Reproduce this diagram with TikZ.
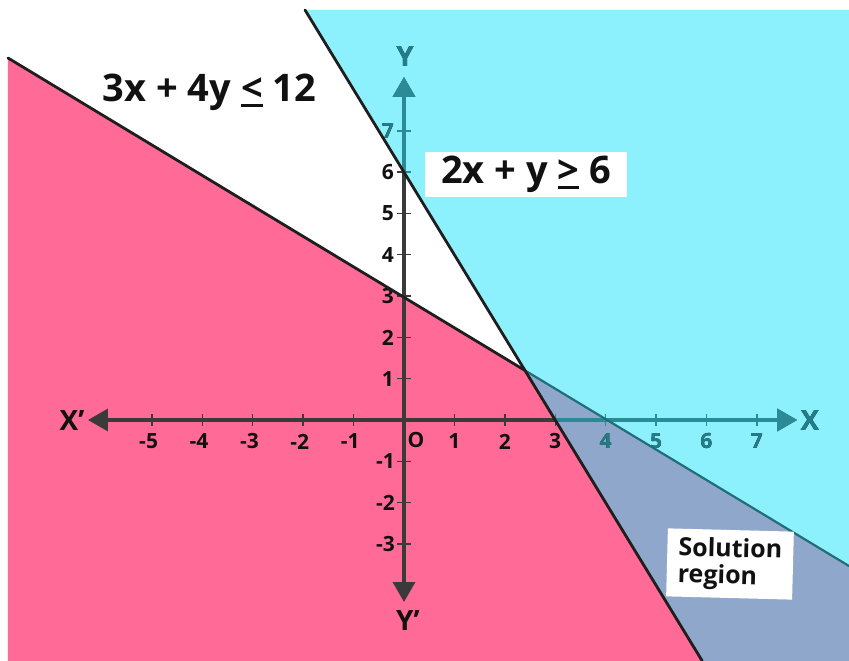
\documentclass[tikz,border=0pt]{standalone}
\usepackage{fontspec}
\setmainfont{Open Sans}
\usetikzlibrary{arrows.meta}
\definecolor{pinkreg}{RGB}{255,107,150}
\definecolor{cyanreg}{RGB}{141,241,253}
\definecolor{solreg}{RGB}{143,167,202}
\definecolor{axisdark}{RGB}{58,58,58}
\definecolor{labeldark}{RGB}{17,17,17}
\definecolor{axisteal}{RGB}{42,138,150}
\definecolor{labelteal}{RGB}{34,125,138}
\definecolor{boundline}{RGB}{30,30,30}
\newcommand{\ulsym}[1]{\leavevmode\vtop{\hbox{#1}\kern2.5pt\hrule height 2.8pt}}
\tikzset{
  axisline/.style={line width=3.5pt,
    {Triangle[length=20pt,width=22pt]}-{Triangle[length=20pt,width=22pt]}},
  tickline/.style={line width=1.4pt},
  ticklbl/.style={font=\fontsize{21}{21}\selectfont\bfseries, inner sep=0pt},
  axislbl/.style={font=\fontsize{28}{28}\selectfont\bfseries, inner sep=0pt},
  bigeq/.style={font=\fontsize{38}{38}\selectfont\bfseries, inner sep=0pt},
  bound/.style={line width=2.8pt, draw=boundline, line cap=round},
}
% #1 axis colour, #2 label colour, #3 name suffix
\newcommand{\myaxes}[3]{%
  \draw[axisline,draw=#1,fill=#1] (xl) -- (xr);
  \draw[axisline,draw=#1,fill=#1] (yb) -- (yt);
  \foreach \i in {-5,...,-1,1,2,...,7}
    \draw[tickline,draw=#1] ([yshift=-6pt]\i,0) -- ([yshift=6pt]\i,0);
  \foreach \j in {-3,...,-1,1,2,...,7}
    \draw[tickline,draw=#1] ([xshift=-7pt]0,\j) -- ([xshift=7pt]0,\j);
  \foreach \i in {1,...,7}
    \node[ticklbl,text=#2] (xp\i#3) at ([yshift=-21.5pt]\i,0) {\i};
  \foreach \i in {1,...,5}
    \node[ticklbl,text=#2] (xn\i#3) at ([yshift=-21.5pt]-\i,0) {\llap{-}\i};
  \foreach \j in {1,...,7}
    \node[ticklbl,text=#2,anchor=east] (yp\j#3) at ([xshift=-10pt]0,\j) {\j};
  \foreach \j in {1,...,3}
    \node[ticklbl,text=#2,anchor=east] (yn\j#3) at ([xshift=-9pt]0,-\j) {-\j};
  \node[ticklbl,text=#2] (olbl#3) at (12pt,-20pt) {O};
  \node[axislbl,text=#2] (xlbl#3) at (-332pt,-1pt) {X’};
  \node[axislbl,text=#2] (xrlbl#3) at (406pt,-1pt) {X};
  \node[axislbl,text=#2] (ytlbl#3) at (1pt,363pt) {Y};
  \node[axislbl,text=#2] (yblbl#3) at (4pt,-201pt) {Y’};
}
\begin{document}
\begin{tikzpicture}[x=50.4pt,y=41.3pt]
  \useasboundingbox (-404pt,-241pt) rectangle (445pt,420pt);
  \fill[white] (-404pt,-241pt) rectangle (445pt,420pt);
  % key points
  \coordinate (P)   at (120.96pt,49.56pt);
  \coordinate (L1a) at (-396pt,362pt);
  \coordinate (L1b) at (445pt,-146pt);
  \coordinate (L2a) at (-98.97pt,410pt);
  \coordinate (L2b) at (298.25pt,-241pt);
  \coordinate (BL)  at (-396pt,-241pt);
  \coordinate (TL)  at (-396pt,410pt);
  \coordinate (TR)  at (445pt,410pt);
  \coordinate (BR)  at (445pt,-241pt);
  % regions
  \fill[pinkreg] (BL) -- (L1a) -- (P) -- (L2b) -- cycle;
  \fill[white] (L1a) -- (TL) -- (L2a) -- (P) -- cycle;
  \fill[cyanreg] (L2a) -- (TR) -- (L1b) -- (P) -- cycle;
  \fill[solreg] (P) -- (L1b) -- (BR) -- (L2b) -- cycle;
  % axes
  \coordinate (O)  at (0,0);
  \coordinate (xl) at (-6.27,0);
  \coordinate (xr) at (7.80,0);
  \coordinate (yb) at (0,-4.407);
  \coordinate (yt) at (0,8.305);
  \myaxes{axisdark}{labeldark}{}
  \begin{scope}
    \clip (L2a) -- (TR) -- (BR) -- (L2b) -- cycle;
    \myaxes{axisteal}{labelteal}{t}
  \end{scope}
  % boundary lines
  \draw[bound] (L1a) -- (P);
  \draw[bound,draw=axisteal!80!black,line width=2.2pt] (P) -- (L1b);
  \draw[bound] (L2a) -- (L2b);
  % texts
  \node[bigeq,anchor=base,text=labeldark] (eq1) at (-194.5pt,318pt) {3x + 4y \ulsym{<} 12};
  \node[bigeq,fill=white,text=labeldark,minimum width=202pt,minimum height=45pt]
    (eq2) at (122pt,245.5pt) {2x + y \ulsym{>} 6};
  \node[fill=white,text=labeldark,rotate=-1.5,minimum width=126pt,minimum height=68pt,
    align=left,font=\fontsize{25}{27}\selectfont\bfseries,inner sep=0pt]
    (sol) at (326pt,-144pt) {Solution\\region};
\end{tikzpicture}
\end{document}
